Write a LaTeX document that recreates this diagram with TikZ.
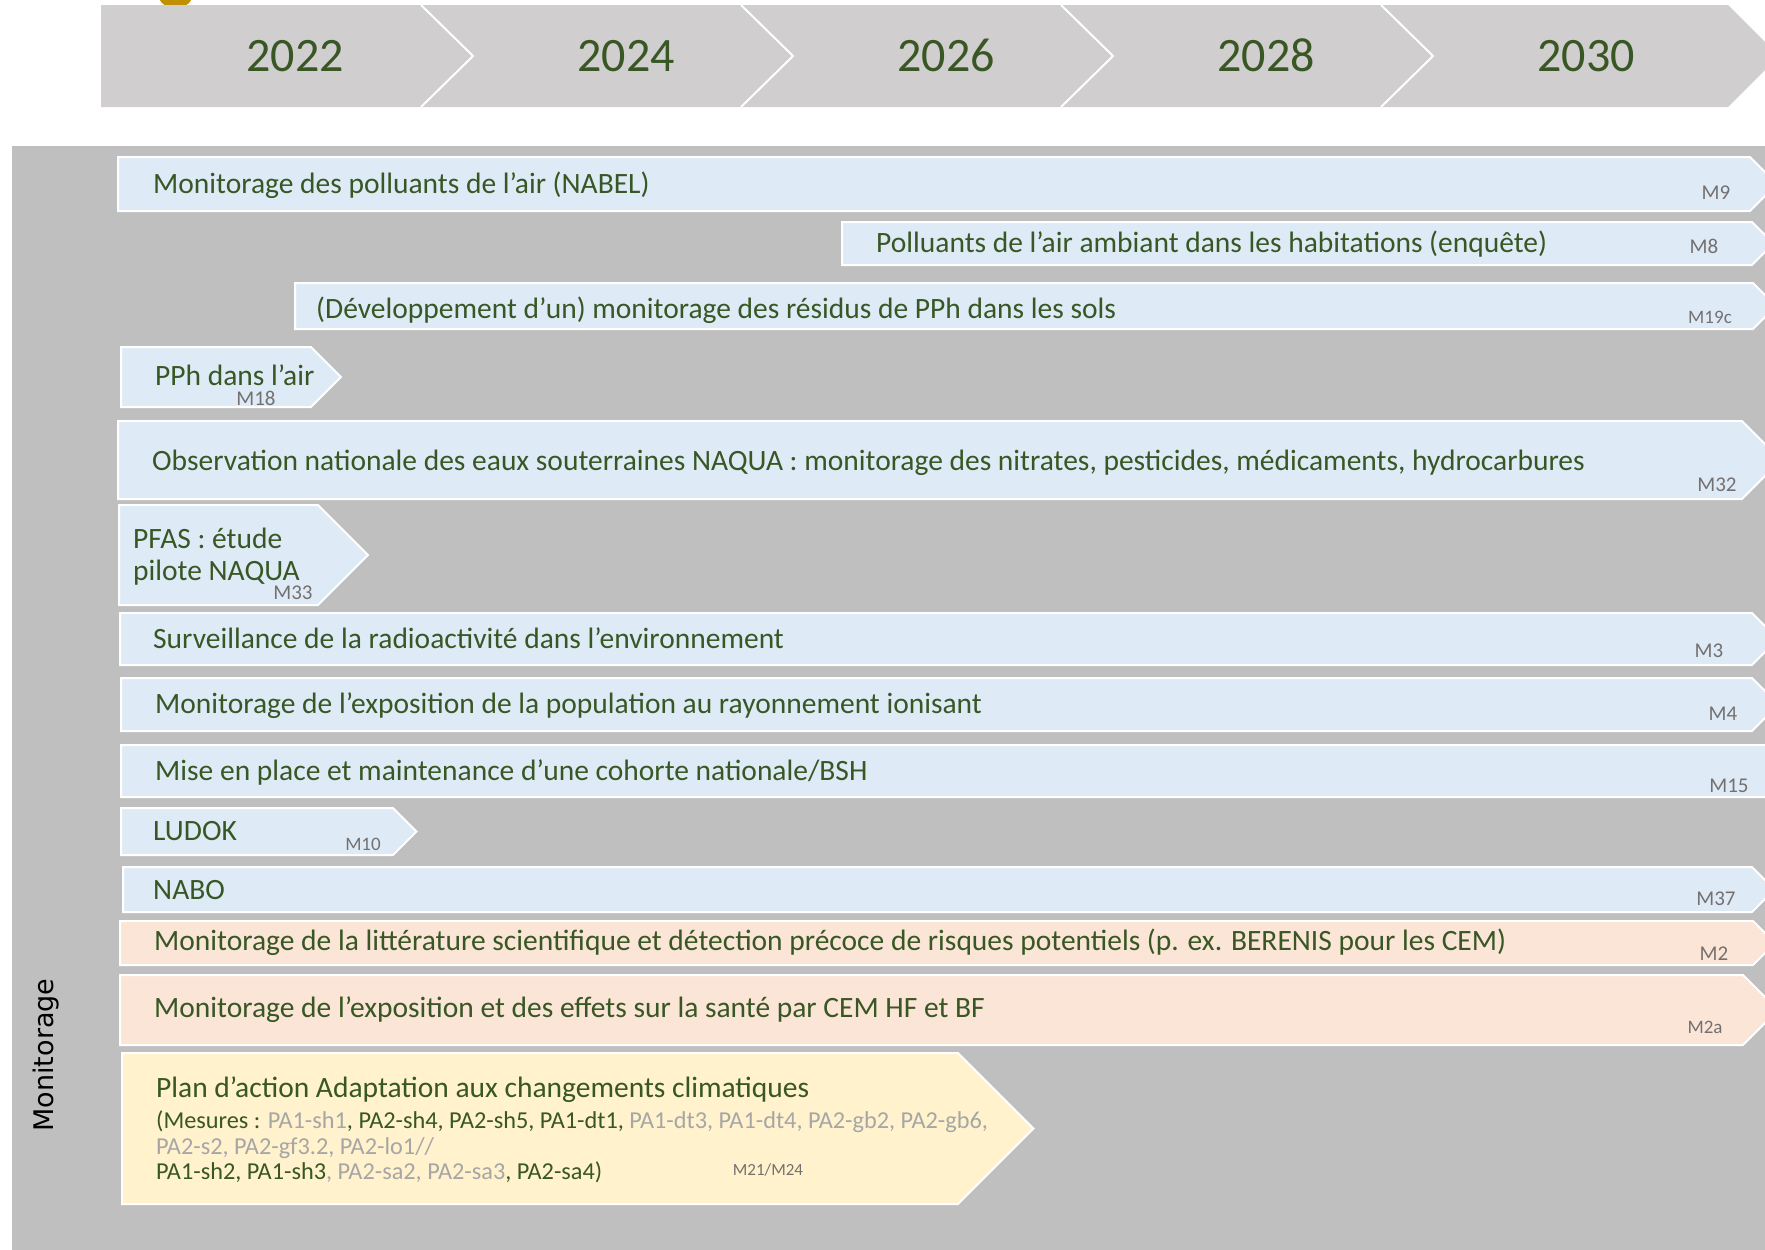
\documentclass[tikz,border=0pt]{standalone}
\usepackage{fontspec}
\setmainfont{Carlito}
\newfontfamily\sidefont{DejaVu Sans}
\usepackage{tikz}
\definecolor{dgreen}{rgb}{0.22,0.34,0.14}
\definecolor{panelgray}{rgb}{0.75,0.75,0.75}
\definecolor{yeargray}{rgb}{0.816,0.808,0.808}
\definecolor{lblue}{rgb}{0.871,0.922,0.969}
\definecolor{lpeach}{rgb}{0.984,0.898,0.839}
\definecolor{lyellow}{rgb}{1,0.949,0.8}
\definecolor{mgray}{rgb}{0.46,0.44,0.44}
\definecolor{pgray}{rgb}{0.65,0.65,0.65}
\definecolor{gold}{rgb}{0.75,0.565,0}

\begin{document}
\begin{tikzpicture}[x=1pt,y=-1pt,
  bluebar/.style={fill=lblue,draw=white,line width=2pt},
  peachbar/.style={fill=lpeach,draw=white,line width=2pt},
  yellowbar/.style={fill=lyellow,draw=white,line width=2pt},
  bartext/.style={anchor=base west,inner sep=0pt,text=dgreen,font=\fontsize{29.5}{35}\selectfont},
  smalltext/.style={anchor=base west,inner sep=0pt,text=dgreen,font=\fontsize{24.3}{29}\selectfont},
  mlabel/.style={anchor=base,inner sep=0pt,text=mgray,font=\fontsize{21}{25}\selectfont},
  yeartext/.style={anchor=base,inner sep=0pt,text=dgreen,font=\fontsize{48}{56}\selectfont}]
\useasboundingbox (0,0) rectangle (1765,1250);
\clip (0,0) rectangle (1765,1250);

% years
\fill[gold,rounded corners=10pt] (159,-20) rectangle (192,6);
\fill[yeargray] (101,5) -- (1728,5) -- (1779,56) -- (1728,107) -- (101,107) -- cycle;
\foreach \x in {421,741,1061,1381}
  \draw[white,line width=2pt] (\x,5) -- (\x+52,56) -- (\x,107);
\foreach \x/\yr in {295/2022,626/2024,946/2026,1266/2028,1586/2030}
  \node[yeartext] (y\yr) at (\x,71) {\yr};

% panel
\fill[panelgray] (12,146) rectangle (1800,1260);
\node[rotate=90,anchor=base,inner sep=0pt,font=\sidefont\fontsize{27}{32}\selectfont] (side) at (53,1055) {Monitorage};

% bars
\draw[bluebar] (118,157) -- (1750,157) -- (1777,184) -- (1750,211) -- (118,211) -- cycle;
\node[bartext] (nabel) at (153,193) {Monitorage des polluants de l’air (NABEL)};
\node[mlabel] (m9) at (1716,199) {M9};

\draw[bluebar] (842,222) -- (1752,222) -- (1773.5,243.5) -- (1752,265) -- (842,265) -- cycle;
\node[bartext] (habit) at (876,252) {Polluants de l’air ambiant dans les habitations (enquête)};
\node[mlabel] (m8) at (1704,253) {M8};

\draw[bluebar] (295,283) -- (1753,283) -- (1776,306) -- (1753,329) -- (295,329) -- cycle;
\node[bartext] (sols) at (316,318) {(Développement d’un) monitorage des résidus de PPh dans les sols};
\node[mlabel,font=\fontsize{19}{23}\selectfont] (m19c) at (1710,323) {M19c};

\draw[bluebar] (121,347) -- (311,347) -- (341,377) -- (311,407) -- (121,407) -- cycle;
\node[bartext] (pphair) at (155,385) {PPh dans l’air};
\node[mlabel] (m18) at (256,405) {M18};

\draw[bluebar] (118,421) -- (1742,421) -- (1781,460) -- (1742,499) -- (118,499) -- cycle;
\node[bartext] (naqua) at (152,470) {Observation nationale des eaux souterraines NAQUA : monitorage des nitrates, pesticides, médicaments, hydrocarbures};
\node[mlabel] (m32) at (1717,491) {M32};

\draw[bluebar] (119,505) -- (318,505) -- (368,555) -- (318,605) -- (119,605) -- cycle;
\node[bartext] (pfas1) at (133,548) {PFAS : étude};
\node[bartext] (pfas2) at (133,580) {pilote NAQUA};
\node[mlabel] (m33) at (293,599) {M33};

\draw[bluebar] (120,613) -- (1752,613) -- (1778,639) -- (1752,665) -- (120,665) -- cycle;
\node[bartext] (radio) at (153,648) {Surveillance de la radioactivité dans l’environnement};
\node[mlabel] (m3) at (1709,657) {M3};

\draw[bluebar] (121,678) -- (1752,678) -- (1778.5,704.5) -- (1752,731) -- (121,731) -- cycle;
\node[bartext] (rayon) at (155,713) {Monitorage de l’exposition de la population au rayonnement ionisant};
\node[mlabel] (m4) at (1723,720) {M4};

\draw[bluebar] (121,745) -- (1768,745) -- (1794,771) -- (1768,797) -- (121,797) -- cycle;
\node[bartext] (cohorte) at (155,780) {Mise en place et maintenance d’une cohorte nationale/BSH};
\node[mlabel] (m15) at (1729,792) {M15};

\draw[bluebar] (121,808) -- (393,808) -- (416.5,831.5) -- (393,855) -- (121,855) -- cycle;
\node[bartext] (ludok) at (153,840) {LUDOK};
\node[mlabel,font=\fontsize{19}{23}\selectfont] (m10) at (363,850) {M10};

\draw[bluebar] (123,867) -- (1752,867) -- (1774.5,889.5) -- (1752,912) -- (123,912) -- cycle;
\node[bartext] (nabo) at (153,899) {NABO};
\node[mlabel] (m37) at (1716,905) {M37};

\draw[peachbar] (120,921) -- (1753,921) -- (1775,943) -- (1753,965) -- (120,965) -- cycle;
\node[bartext] (litt) at (154,950) {Monitorage de la littérature scientifique et détection précoce de risques potentiels (p. ex. BERENIS pour les CEM)};
\node[mlabel] (m2) at (1714,960) {M2};

\draw[peachbar] (120,975) -- (1743,975) -- (1778,1010) -- (1743,1045) -- (120,1045) -- cycle;
\node[bartext] (cem) at (154,1017) {Monitorage de l’exposition et des effets sur la santé par CEM HF et BF};
\node[mlabel,font=\fontsize{19}{23}\selectfont] (m2a) at (1705,1033) {M2a};

\draw[yellowbar] (122,1053) -- (958,1053) -- (1033.5,1128.5) -- (958,1204) -- (122,1204) -- cycle;
\node[bartext] (plan) at (156,1097) {Plan d’action Adaptation aux changements climatiques};
\node[smalltext] (mes1) at (156,1128) {(Mesures : \textcolor{pgray}{PA1-sh1}, PA2-sh4, PA2-sh5, PA1-dt1, \textcolor{pgray}{PA1-dt3, PA1-dt4, PA2-gb2, PA2-gb6,}};
\node[smalltext,text=pgray] (mes2) at (156,1154) {PA2-s2, PA2-gf3.2, PA2-lo1//};
\node[smalltext] (mes3) at (156,1179) {PA1-sh2, PA1-sh3\textcolor{pgray}{, PA2-sa2, PA2-sa3}, PA2-sa4)};
\node[mlabel,font=\fontsize{17}{20}\selectfont] (m21) at (768,1175) {M21/M24};
\end{tikzpicture}
\end{document}
